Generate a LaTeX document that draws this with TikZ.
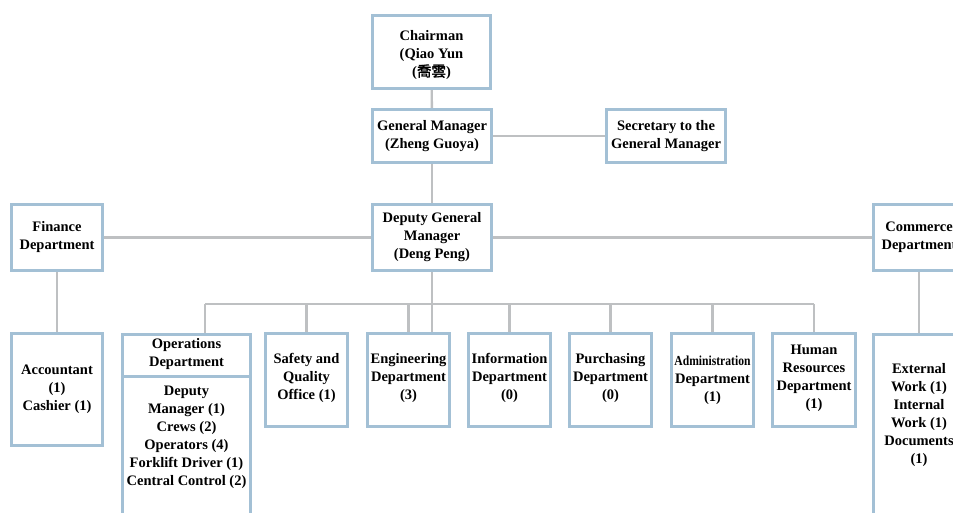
\documentclass[tikz,border=0pt]{standalone}
\usepackage{fontspec}
\usepackage{graphicx}
\setmainfont{Liberation Serif}
\newfontfamily\cjk{Noto Sans CJK TC}[AutoFakeBold=2]
\usetikzlibrary{backgrounds,calc}
\definecolor{boxc}{RGB}{163,192,213}
\definecolor{connc}{RGB}{190,192,194}
\tikzset{
  orgbox/.style={draw=boxc, line width=2.8pt, fill=white, align=center, inner sep=0pt,
     font=\fontsize{14.5}{18}\selectfont\bfseries},
  orgtext/.style={align=center, inner sep=0pt, font=\fontsize{14.5}{18}\selectfont\bfseries},
  conn/.style={draw=connc, line width=2.4pt}
}
\begin{document}
\begin{tikzpicture}[x=1pt,y=-1pt]
\useasboundingbox (0,0) rectangle (953,512);
\clip (0,0) rectangle (953,512);
% top
\node[orgbox, minimum width=118, minimum height=73] (chair) at (431.5,52) {};
\node[orgtext] (chairt) at (431.5,55) {Chairman\\(Qiao Yun\\({\cjk 喬雲})};
\node[orgbox, minimum width=119, minimum height=53] (gm) at (432,136) {General Manager\\(Zheng Guoya)};
\node[orgbox, minimum width=119, minimum height=53] (sec) at (666,136) {Secretary to the\\General Manager};
\node[orgbox, minimum width=119, minimum height=66] (dgm) at (432,237.5) {Deputy General\\Manager\\(Deng Peng)};
\node[orgbox, minimum width=91, minimum height=66] (fin) at (57,237.5) {Finance\\Department};
\node[orgbox, minimum width=91, minimum height=66] (com) at (919,237.5) {Commerce\\Department};
% bottom row
\node[orgbox, minimum width=91, minimum height=112] (acc) at (57,389.5) {Accountant\\(1)\\Cashier (1)};
\node[orgbox, minimum width=128, minimum height=226, anchor=north] (ops) at (186.5,333.4) {};
\node[orgtext] (opsh) at (186.5,354) {Operations\\Department};
\node[orgtext] (opsb) at (186.5,437.5) {Deputy\\Manager (1)\\Crews (2)\\Operators (4)\\Forklift Driver (1)\\Central Control (2)};
\draw[draw=boxc, line width=2.8pt] ($(ops.north west)+(0,43)$) -- ($(ops.north east)+(0,43)$);
\node[orgbox, minimum width=82, minimum height=93] (saf) at (306.5,380) {};
\node[orgtext] (saft) at (306.5,378) {Safety and\\Quality\\Office (1)};
\node[orgbox, minimum width=82, minimum height=93] (eng) at (408.5,380) {};
\node[orgtext] (engt) at (408.5,378) {Engineering\\Department\\(3)};
\node[orgbox, minimum width=82, minimum height=93] (info) at (509.5,380) {};
\node[orgtext] (infot) at (509.5,378) {Information\\Department\\(0)};
\node[orgbox, minimum width=82, minimum height=93] (pur) at (610.5,380) {};
\node[orgtext] (purt) at (610.5,378) {Purchasing\\Department\\(0)};
\node[orgbox, minimum width=82, minimum height=93] (adm) at (712.5,380) {\scalebox{0.8}[0.95]{Administration}\\Department\\(1)};
\node[orgbox, minimum width=83, minimum height=93] (hr) at (814,380) {};
\node[orgtext] (hrt) at (814,378.5) {Human\\Resources\\Department\\(1)};
\node[orgbox, minimum width=91, minimum height=226, anchor=north] (ext) at (919,333.4) {};
\node[orgtext] (extt) at (919,415) {External\\Work (1)\\Internal\\Work (1)\\Documents\\(1)};
\coordinate (busL) at (205,304);
\coordinate (busR) at (814,304);
\begin{scope}[on background layer]
\draw[conn] (chair) -- (gm);
\draw[conn] (gm) -- (sec);
\draw[conn] (gm) -- (dgm);
\draw[conn] (dgm) -- (fin);
\draw[conn] (dgm) -- (com);
\draw[conn] (fin) -- (acc);
\draw[conn] (com) -- (ext);
\draw[conn] (dgm.south) -- (dgm.south |- eng.north);
\draw[conn] (busL) -- (busR);
\draw[conn] (busL) -- (busL |- ops.north);
\draw[conn] (saf.north) -- (saf.north |- busL);
\draw[conn] (eng.north) -- (eng.north |- busL);
\draw[conn] (info.north) -- (info.north |- busL);
\draw[conn] (pur.north) -- (pur.north |- busL);
\draw[conn] (adm.north) -- (adm.north |- busL);
\draw[conn] (hr.north) -- (hr.north |- busL);
\end{scope}
\end{tikzpicture}
\end{document}
